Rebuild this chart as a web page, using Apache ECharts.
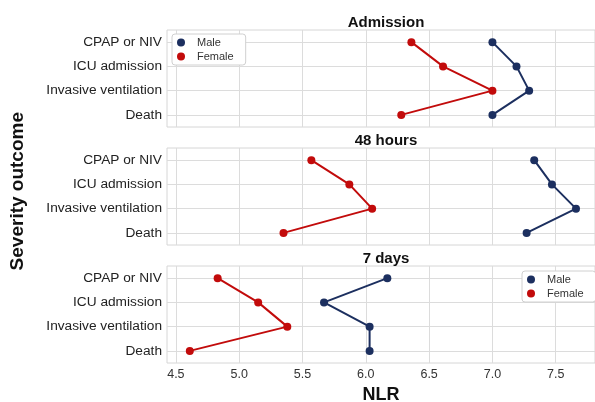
<!DOCTYPE html>
<html><head><meta charset="utf-8">
<script src="https://cdn.jsdelivr.net/npm/echarts@6/dist/echarts.min.js"></script>
<style>html,body{margin:0;padding:0;background:#fff}#c{width:595px;height:402px}</style>
</head><body><div id="c"></div>
<script>
const categories = ['CPAP or NIV', 'ICU admission', 'Invasive ventilation', 'Death'];
const panelTitles = ['Admission', '48 hours', '7 days'];
const xTicks = [4.5, 5.0, 5.5, 6.0, 6.5, 7.0, 7.5];
const maleAdmission = [7.00, 7.19, 7.29, 7.00];
const femaleAdmission = [6.36, 6.61, 7.00, 6.28];
const male48h = [7.33, 7.47, 7.66, 7.27];
const female48h = [5.57, 5.87, 6.05, 5.35];
const male7d = [6.17, 5.67, 6.03, 6.03];
const female7d = [4.83, 5.15, 5.38, 4.61];

const maleSets = [maleAdmission, male48h, male7d];
const femaleSets = [femaleAdmission, female48h, female7d];
const MALE = '#1c2f5f', FEMALE = '#c20b0b';
const FONT = 'Liberation Sans, Arial, sans-serif';

const gridTops = [30, 148, 266];
const gridH = 97;
const grids = [], xAxes = [], yAxes = [], series = [], titles = [];
for (let i = 0; i < 3; i++) {
  grids.push({left: 167, right: 0, top: gridTops[i], height: gridH, show: true,
    outerBoundsMode: 'none', containLabel: false,
    borderColor: '#d6d6d6', borderWidth: 1, backgroundColor: '#fff'});
  xAxes.push({type: 'value', gridIndex: i, min: 4.43, max: 7.81,
    axisLine: {show: false}, axisTick: {show: false, customValues: xTicks},
    axisLabel: {show: i === 2, customValues: xTicks, color: '#333', fontSize: 12.5, fontFamily: FONT, margin: 5,
      formatter: v => v.toFixed(1)},
    splitLine: {show: true, lineStyle: {color: '#dcdcdc', width: 1}},
    name: i === 2 ? 'NLR' : '', nameLocation: 'middle', nameGap: 23,
    nameTextStyle: {fontSize: 18, fontWeight: 'bold', color: '#111', fontFamily: FONT}});
  yAxes.push({type: 'category', gridIndex: i, data: categories, inverse: true,
    axisLine: {show: false}, axisTick: {show: false},
    axisLabel: {color: '#222', fontSize: 13.7, fontFamily: FONT, margin: 5},
    splitLine: {show: true, alignWithLabel: true, lineStyle: {color: '#dcdcdc', width: 1}}});
  titles.push({text: panelTitles[i], left: 381, textAlign: 'center', top: gridTops[i] - 20,
    textStyle: {fontSize: 15, fontWeight: 'bold', color: '#111', fontFamily: FONT}});
  series.push({name: 'Male', type: 'line', xAxisIndex: i, yAxisIndex: i,
    data: maleSets[i].map((v, k) => [v, categories[k]]),
    symbol: 'circle', symbolSize: 8, color: MALE, lineStyle: {width: 2, color: MALE},
    itemStyle: {color: MALE}, animation: false});
  series.push({name: 'Female', type: 'line', xAxisIndex: i, yAxisIndex: i,
    data: femaleSets[i].map((v, k) => [v, categories[k]]),
    symbol: 'circle', symbolSize: 8, color: FEMALE, lineStyle: {width: 2, color: FEMALE},
    itemStyle: {color: FEMALE}, animation: false});
}
const legendBase = {orient: 'vertical', icon: 'circle', itemWidth: 22, itemHeight: 8, itemGap: 3,
  backgroundColor: '#fff', borderColor: '#d0d0d0', borderWidth: 1, borderRadius: 3,
  padding: [3, 12, 3, 5], textStyle: {fontSize: 11, color: '#333', fontFamily: FONT},
  data: ['Male', 'Female']};
const chart = echarts.init(document.getElementById('c'), null, {renderer: 'canvas'});
chart.setOption({
  backgroundColor: '#fff',
  animation: false,
  title: titles,
  grid: grids, xAxis: xAxes, yAxis: yAxes, series: series,
  legend: [Object.assign({left: 172, top: 34}, legendBase), Object.assign({left: 522, top: 271}, legendBase)],
  graphic: [{type: 'text', left: 8, top: 112, rotation: Math.PI / 2,
    style: {text: 'Severity outcome', fill: '#111', font: 'bold 19px ' + FONT}}]
});
</script></body></html>
